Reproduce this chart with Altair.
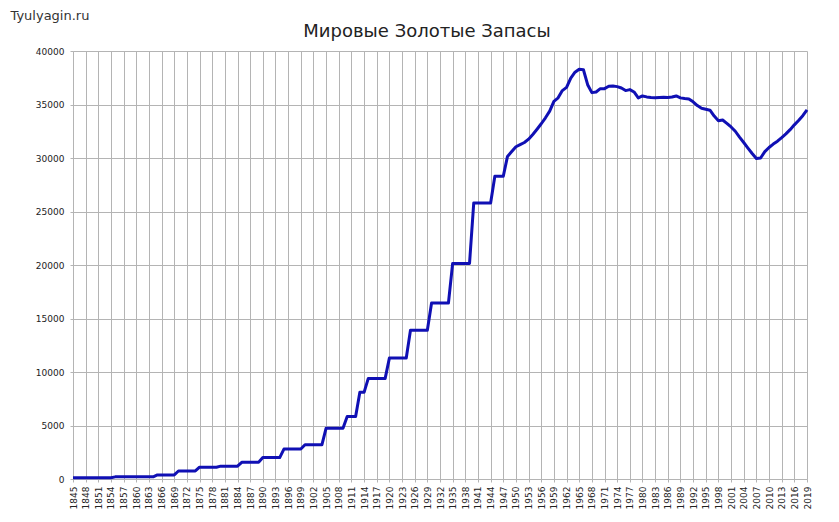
import altair as alt
import pandas as pd

years = [1845, 1854, 1855, 1864, 1865, 1869, 1870, 1874, 1875, 1879, 1880, 1884,
         1885, 1889, 1890, 1894, 1895, 1899, 1900, 1904, 1905, 1909, 1910, 1912,
         1913, 1914, 1915, 1919, 1920, 1924, 1925, 1929, 1930, 1934, 1935, 1939,
         1940, 1944, 1945, 1947, 1948, 1949, 1950, 1951, 1952, 1953, 1954, 1955,
         1956, 1957, 1958, 1959, 1960, 1961, 1962, 1963, 1964, 1965, 1966, 1967,
         1968, 1969, 1970, 1971, 1972, 1973, 1974, 1975, 1976, 1977, 1978, 1979,
         1980, 1981, 1982, 1983, 1984, 1985, 1986, 1987, 1988, 1989, 1990, 1991,
         1992, 1993, 1994, 1995, 1996, 1997, 1998, 1999, 2000, 2001, 2002, 2003,
         2004, 2005, 2006, 2007, 2008, 2009, 2010, 2011, 2012, 2013, 2014, 2015,
         2016, 2017, 2018, 2019]
reserves = [120, 120, 200, 200, 380, 380, 750, 750, 1100, 1100, 1200, 1200,
            1560, 1560, 2000, 2000, 2800, 2800, 3200, 3200, 4750, 4750, 5850, 5850,
            8100, 8100, 9400, 9400, 11300, 11300, 13900, 13900, 16450, 16450, 20150, 20150,
            25800, 25800, 28300, 28300, 30150, 30600, 31050, 31250, 31450, 31760, 32200, 32690,
            33200, 33760, 34380, 35300, 35620, 36300, 36600, 37470, 38020, 38300, 38250, 36850,
            36110, 36170, 36480, 36480, 36700, 36730, 36670, 36540, 36300, 36390, 36170, 35620,
            35800, 35710, 35650, 35620, 35660, 35680, 35650, 35700, 35800, 35620, 35560, 35520,
            35250, 34900, 34650, 34560, 34470, 33920, 33490, 33550, 33240, 32900, 32500, 31950,
            31450, 30930, 30420, 29950, 30000, 30600, 30980, 31300, 31570, 31900, 32250, 32650,
            33100, 33500, 33950, 34500]

x_ticks = list(range(1845, 2020, 3))
y_ticks = list(range(0, 40001, 5000))

df = pd.DataFrame({"year": years, "reserves": reserves})

GRID = "#b4b4b4"
FONT = "DejaVu Sans"

chart = alt.Chart(df).mark_line(
    color="#1010b4", strokeWidth=3, strokeJoin="round"
).encode(
    x=alt.X(
        "year:Q",
        scale=alt.Scale(domain=[1845, 2019], nice=False, zero=False),
        axis=alt.Axis(
            values=x_ticks, format="d", labelAngle=-90, title=None,
            labelFont=FONT, labelFontSize=9, labelColor="#222",
            labelPadding=4, tickSize=3, tickColor=GRID,
            domainColor=GRID, gridColor=GRID, gridOpacity=1,
            labelOverlap=False, labelFlush=False,
        ),
    ),
    y=alt.Y(
        "reserves:Q",
        scale=alt.Scale(domain=[0, 40000], nice=False),
        axis=alt.Axis(
            values=y_ticks, format="d",
            labelFont=FONT, labelFontSize=9, labelColor="#222",
            labelPadding=6, tickSize=3, tickColor=GRID,
            domainColor=GRID, gridColor=GRID, gridOpacity=1,
            title="Tyulyagin.ru", titleAngle=0, titleX=-63, titleY=-32,
            titleAlign="left", titleBaseline="alphabetic",
            titleFont=FONT, titleFontSize=13, titleFontWeight="normal",
            titleColor="#333",
        ),
    ),
).properties(
    width=734,
    height=428,
    padding={"left": 65, "top": 43, "right": 24, "bottom": 40},
    autosize=alt.AutoSizeParams(type="none"),
    title=alt.TitleParams(
        "Мировые Золотые Запасы", anchor="middle", dx=-13, offset=-32,
        font=FONT, fontSize=18, fontWeight="normal", color="#222",
    ),
).configure_view(stroke=None)

chart.save("out.html", embed_options={"renderer": "svg", "actions": False})
